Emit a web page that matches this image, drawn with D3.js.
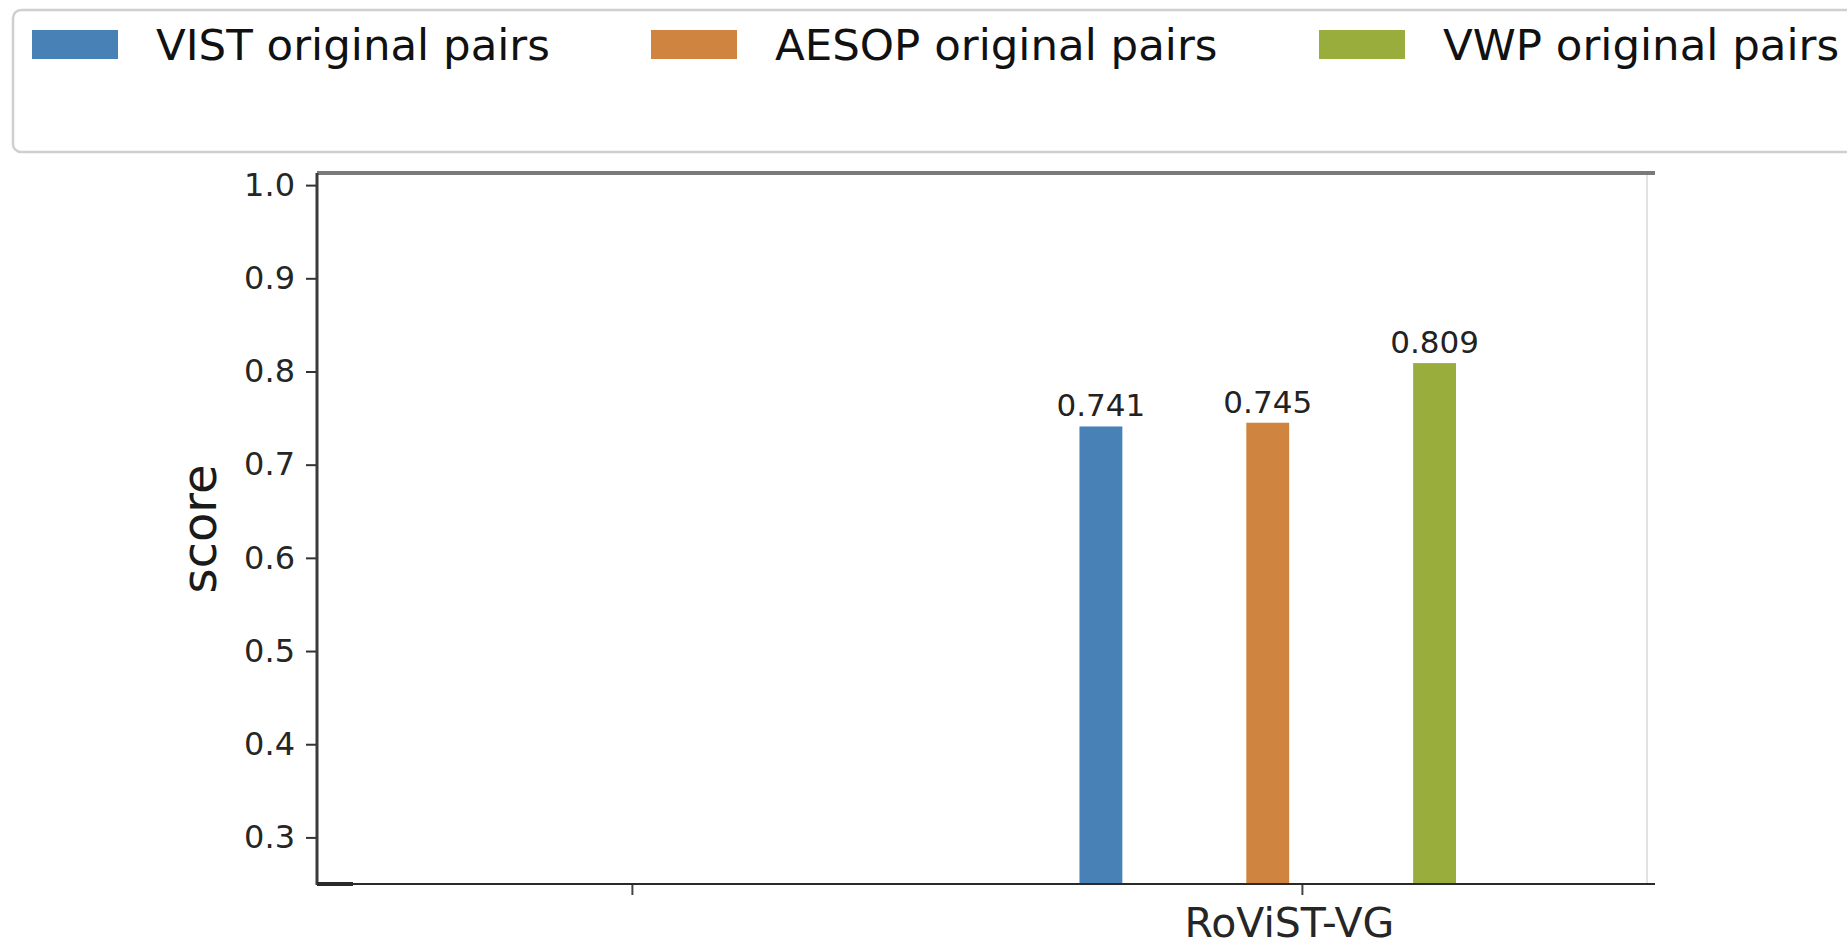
<!DOCTYPE html>
<html>
<head>
<meta charset="utf-8">
<script src="https://cdn.jsdelivr.net/npm/d3@7/dist/d3.min.js"></script>
<style>
  html, body { margin: 0; padding: 0; background: #fff; }
  svg { display: block; font-family: "DejaVu Sans", sans-serif; }
</style>
</head>
<body>
<svg id="chart" width="1847" height="946"></svg>
<script>
// ---- data ----
const categories = ["", "RoViST-VG"];
const seriesNames = ["VIST original pairs", "AESOP original pairs", "VWP original pairs"];
const seriesColors = ["#4781b6", "#cf853f", "#98ad3c"];
const vistValues = [null, 0.741];
const aesopValues = [null, 0.745];
const vwpValues = [null, 0.809];
const yTicks = [0.3, 0.4, 0.5, 0.6, 0.7, 0.8, 0.9, 1.0];

const seriesValues = [vistValues, aesopValues, vwpValues];

(function () {
// ---- layout ----
const svg = d3.select("#chart");
const pLeft = 317, pRight = 1655, pTop = 173, pBottom = 884;

const x = d3.scaleLinear().domain([-0.47, 1.527]).range([pLeft, pRight]);
const y = d3.scaleLinear().domain([0.25, 1.013]).range([pBottom, pTop]);

const barOffset = i => -0.30 + i * 0.249;
const barWidthUnits = 0.064;

// bars
const bars = [];
seriesValues.forEach((vals, si) => {
  vals.forEach((v, ci) => {
    if (v != null) bars.push({ si, ci, v });
  });
});

const g = svg.append("g");
g.selectAll("rect.bar").data(bars).enter().append("rect")
  .attr("class", "bar")
  .attr("x", d => x(d.ci + barOffset(d.si) - barWidthUnits / 2))
  .attr("width", d => x(barWidthUnits) - x(0))
  .attr("y", d => y(d.v))
  .attr("height", d => y(0.25) - y(d.v))
  .attr("fill", d => seriesColors[d.si]);

g.selectAll("text.vlab").data(bars).enter().append("text")
  .attr("class", "vlab")
  .attr("x", d => x(d.ci + barOffset(d.si)))
  .attr("y", d => y(d.v) - 10)
  .attr("text-anchor", "middle")
  .attr("font-size", 31)
  .attr("fill", "#222")
  .text(d => d.v.toFixed(3));

// right spine (light)
svg.append("line")
  .attr("x1", pRight - 8).attr("x2", pRight - 8)
  .attr("y1", pTop).attr("y2", pBottom)
  .attr("stroke", "#e2e2e2").attr("stroke-width", 2);

// top spine
svg.append("line")
  .attr("x1", pLeft).attr("x2", pRight)
  .attr("y1", pTop).attr("y2", pTop)
  .attr("stroke", "#7a7a7a").attr("stroke-width", 4);

// y axis
const yAxis = d3.axisLeft(y).tickValues(yTicks).tickFormat(d3.format(".1f"))
  .tickSize(11).tickPadding(11);
const yg = svg.append("g").attr("transform", `translate(${pLeft},0)`).call(yAxis);
yg.select(".domain").remove();
yg.selectAll(".tick line").attr("stroke", "#333").attr("stroke-width", 2);
yg.selectAll(".tick text").attr("font-size", 32).attr("fill", "#262626")
  .attr("font-family", "DejaVu Sans, sans-serif");
svg.append("line")
  .attr("x1", pLeft).attr("x2", pLeft)
  .attr("y1", pTop).attr("y2", pBottom + 1)
  .attr("stroke", "#3a3a3a").attr("stroke-width", 3);

// x axis
const xAxis = d3.axisBottom(x).tickValues(d3.range(categories.length))
  .tickFormat(i => categories[i]).tickSize(11).tickPadding(13);
const xg = svg.append("g").attr("transform", `translate(0,${pBottom})`).call(xAxis);
xg.select(".domain").remove();
xg.selectAll(".tick line").attr("stroke", "#444").attr("stroke-width", 2);
xg.selectAll(".tick text").attr("font-size", 41).attr("fill", "#262626")
  .attr("dx", -13)
  .attr("font-family", "DejaVu Sans, sans-serif");
svg.append("line")
  .attr("x1", pLeft).attr("x2", pRight)
  .attr("y1", pBottom).attr("y2", pBottom)
  .attr("stroke", "#2a2a2a").attr("stroke-width", 2);
svg.append("line")
  .attr("x1", pLeft).attr("x2", pLeft + 36)
  .attr("y1", pBottom).attr("y2", pBottom)
  .attr("stroke", "#2a2a2a").attr("stroke-width", 4);

// y label
svg.append("text")
  .attr("transform", "translate(216,529) rotate(-90)")
  .attr("text-anchor", "middle")
  .attr("font-size", 48)
  .attr("fill", "#1a1a1a")
  .text("score");

// legend
svg.append("rect")
  .attr("x", 13).attr("y", 10).attr("width", 1880).attr("height", 142)
  .attr("rx", 8).attr("ry", 8)
  .attr("fill", "#fff").attr("stroke", "#cfcfcf").attr("stroke-width", 2.5);

const legendStarts = [32, 651, 1319];
const leg = svg.append("g");
seriesNames.forEach((name, i) => {
  const lx = legendStarts[i];
  leg.append("rect")
    .attr("x", lx).attr("y", 30).attr("width", 86).attr("height", 29)
    .attr("fill", seriesColors[i]);
  leg.append("text")
    .attr("x", lx + 124).attr("y", 60)
    .attr("font-size", 43.5)
    .attr("fill", "#111")
    .text(name);
});
})();
</script>
</body>
</html>
